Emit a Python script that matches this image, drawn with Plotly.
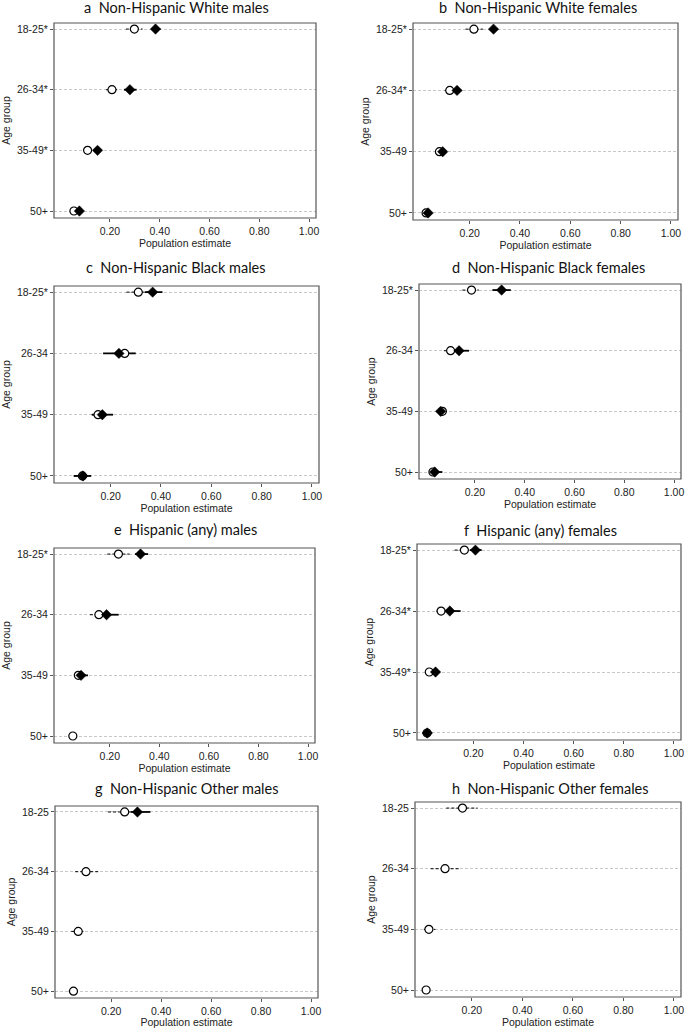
import plotly.graph_objects as go

# ---------------- data ----------------
categories = ["18-25", "26-34", "35-49", "50+"]

panel_titles = [
    "a  Non-Hispanic White males", "b  Non-Hispanic White females",
    "c  Non-Hispanic Black males", "d  Non-Hispanic Black females",
    "e  Hispanic (any) males", "f  Hispanic (any) females",
    "g  Non-Hispanic Other males", "h  Non-Hispanic Other females",
]

tick_labels = [
    ["18-25*", "26-34*", "35-49*", "50+"],
    ["18-25*", "26-34*", "35-49", "50+"],
    ["18-25*", "26-34", "35-49", "50+"],
    ["18-25*", "26-34", "35-49", "50+"],
    ["18-25*", "26-34", "35-49", "50+"],
    ["18-25*", "26-34*", "35-49*", "50+"],
    ["18-25", "26-34", "35-49", "50+"],
    ["18-25", "26-34", "35-49", "50+"],
]

# open-circle series (dashed CI)
open_est = [
    [0.298, 0.208, 0.110, 0.055],
    [0.217, 0.121, 0.080, 0.027],
    [0.310, 0.256, 0.150, 0.088],
    [0.186, 0.102, 0.069, 0.031],
    [0.235, 0.156, 0.073, 0.051],
    [0.164, 0.071, 0.024, 0.015],
    [0.254, 0.099, 0.068, 0.049],
    [0.163, 0.094, 0.030, 0.019],
]
open_lo = [
    [0.264, 0.184, 0.093, 0.042],
    [0.184, 0.101, 0.068, 0.019],
    [0.263, 0.205, 0.125, 0.055],
    [0.149, 0.075, 0.050, 0.018],
    [0.190, 0.120, 0.060, 0.045],
    [0.125, 0.052, 0.012, 0.005],
    [0.187, 0.056, 0.040, 0.030],
    [0.099, 0.037, 0.010, 0.008],
]
open_hi = [
    [0.331, 0.229, 0.126, 0.069],
    [0.253, 0.138, 0.092, 0.037],
    [0.356, 0.300, 0.185, 0.120],
    [0.216, 0.122, 0.088, 0.050],
    [0.280, 0.176, 0.090, 0.058],
    [0.190, 0.086, 0.038, 0.025],
    [0.310, 0.148, 0.089, 0.062],
    [0.223, 0.150, 0.056, 0.030],
]

# filled-diamond series (solid CI)
filled_est = [
    [0.383, 0.280, 0.150, 0.077],
    [0.295, 0.150, 0.093, 0.035],
    [0.367, 0.233, 0.167, 0.090],
    [0.307, 0.136, 0.062, 0.038],
    [0.324, 0.187, 0.084, None],
    [0.208, 0.106, 0.049, 0.016],
    [0.305, None, None, None],
    [None, None, None, None],
]
filled_lo = [
    [0.367, 0.256, 0.137, 0.066],
    [0.280, 0.137, 0.082, 0.024],
    [0.336, 0.170, 0.125, 0.053],
    [0.270, 0.116, 0.046, 0.016],
    [0.302, 0.156, 0.062, None],
    [0.187, 0.086, 0.035, 0.000],
    [0.279, None, None, None],
    [None, None, None, None],
]
filled_hi = [
    [0.403, 0.307, 0.164, 0.089],
    [0.313, 0.167, 0.106, 0.048],
    [0.406, 0.300, 0.210, 0.123],
    [0.344, 0.176, 0.085, 0.069],
    [0.355, 0.236, 0.112, None],
    [0.233, 0.149, 0.062, 0.035],
    [0.357, None, None, None],
    [None, None, None, None],
]

x_tick_vals = [0.2, 0.4, 0.6, 0.8, 1.0]

# ---------------- layout (pixel boxes) ----------------
W, H = 685, 1028
boxes = [  # left, top, right, bottom in pixels
    (54, 23, 316, 218), (413, 23, 678, 220),
    (54, 286, 319, 483), (419, 284, 681, 479),
    (54, 548, 315, 743), (417, 544, 681, 740),
    (55, 806, 318, 998), (415, 802, 681, 997),
]
title_pos = [(176, 8), (538, 8), (176, 268), (548, 268),
             (185, 529), (540, 530), (187, 788), (550, 788)]

TICK_FONT = dict(family="Liberation Sans, Arial, sans-serif", size=10.5, color="#222")
FRAME = "#555"


def ci_xy(lo, hi):
    xs, ys = [], []
    for cat, a, b in zip(categories, lo, hi):
        if a is None or b is None:
            continue
        xs += [a, b, None]
        ys += [cat, cat, None]
    return xs, ys


fig = go.Figure()
layout_axes = {}
annotations = []
shapes = []

for i in range(8):
    sfx = "" if i == 0 else str(i + 1)
    xa, ya = "x" + sfx, "y" + sfx

    # CI lines
    x, y = ci_xy(open_lo[i], open_hi[i])
    fig.add_trace(go.Scatter(x=x, y=y, mode="lines", xaxis=xa, yaxis=ya,
                             line=dict(color="black", width=1, dash="3px,2px"),
                             showlegend=False, hoverinfo="skip"))
    x, y = ci_xy(filled_lo[i], filled_hi[i])
    fig.add_trace(go.Scatter(x=x, y=y, mode="lines", xaxis=xa, yaxis=ya,
                             line=dict(color="black", width=1.8),
                             showlegend=False, hoverinfo="skip"))
    # markers
    fig.add_trace(go.Scatter(x=open_est[i], y=categories, mode="markers", xaxis=xa, yaxis=ya,
                             marker=dict(symbol="circle", size=8, color="white",
                                         line=dict(color="black", width=1.2)),
                             showlegend=False))
    fig.add_trace(go.Scatter(x=filled_est[i], y=categories, mode="markers", xaxis=xa, yaxis=ya,
                             marker=dict(symbol="diamond", size=8, color="black",
                                         line=dict(color="black", width=0.5)),
                             showlegend=False))

    l, t, r, b = boxes[i]
    layout_axes["xaxis" + sfx] = dict(
        domain=[l / W, r / W], anchor=ya, range=[-0.025, 1.028],
        tickvals=x_tick_vals, tickformat=".2f", tickfont=TICK_FONT,
        ticklabeloverflow="allow",
        showgrid=False, zeroline=False, showline=False,
        ticks="outside", ticklen=3, tickcolor=FRAME, tickwidth=1,
        title=dict(text="Population estimate", font=TICK_FONT, standoff=0),
        automargin=False, fixedrange=True,
    )
    layout_axes["yaxis" + sfx] = dict(
        domain=[1 - b / H, 1 - t / H], anchor=xa,
        type="category", categoryorder="array", categoryarray=categories[::-1],
        range=[-0.115, 3.1],
        tickmode="array", tickvals=categories, ticktext=tick_labels[i], tickfont=TICK_FONT,
        showgrid=True, gridcolor="#c8c8c8", gridwidth=1, griddash="3px,2px",
        zeroline=False, showline=False,
        ticks="outside", ticklen=3, tickcolor=FRAME, tickwidth=1,
        title=dict(text="Age group", font=TICK_FONT, standoff=4),
        automargin=False, fixedrange=True,
    )
    shapes.append(dict(type="rect", xref=xa + " domain", yref=ya + " domain",
                       x0=0, x1=1, y0=0, y1=1, line=dict(color=FRAME, width=1.2),
                       fillcolor="rgba(0,0,0,0)", layer="above"))
    tx, ty = title_pos[i]
    annotations.append(dict(text=panel_titles[i], x=tx / W, y=1 - ty / H,
                            xref="paper", yref="paper", xanchor="center", yanchor="middle",
                            showarrow=False,
                            font=dict(family="Lato, Open Sans, sans-serif", size=14.5, color="#111")))

fig.update_layout(
    width=W, height=H, margin=dict(l=0, r=0, t=0, b=0),
    paper_bgcolor="white", plot_bgcolor="white",
    annotations=annotations, shapes=shapes, **layout_axes,
)

fig.write_html("out.html", config={"displayModeBar": False},
               post_script="document.body.style.margin='0px';document.body.style.padding='0px';")
